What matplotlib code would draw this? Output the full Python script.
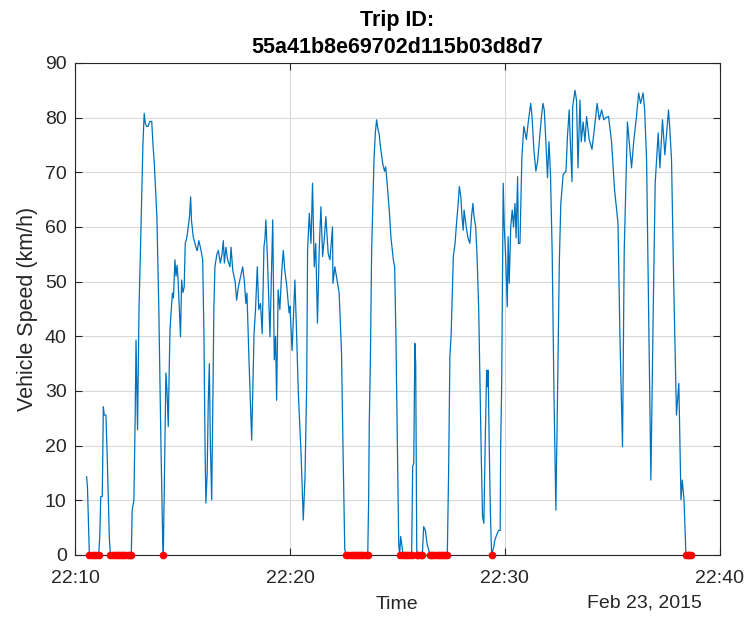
import matplotlib
matplotlib.use('Agg')
import matplotlib.pyplot as plt
import matplotlib.dates as mdates
import pandas as pd

# speed trace, minutes after 22:10 on Feb 23, 2015
minutes = [0.54, 0.58, 0.67, 0.80, 0.90, 1.00, 1.10, 1.15, 1.20, 1.27, 1.32, 1.36, 1.44, 1.50, 1.60,
           1.65, 1.75, 1.85, 1.95, 2.05, 2.15, 2.25, 2.35, 2.45, 2.55, 2.62,
           2.66, 2.74, 2.80, 2.84, 2.88, 2.91, 2.95, 2.98, 3.04, 3.10, 3.16, 3.22, 3.27, 3.33, 3.40,
           3.48, 3.57, 3.63, 3.69, 3.81, 3.90, 4.00, 4.08, 4.11,
           4.18, 4.23, 4.28, 4.34, 4.38, 4.42, 4.53, 4.58, 4.65, 4.70, 4.75, 4.80, 4.91, 4.96, 5.02,
           5.08, 5.13, 5.20, 5.27, 5.33, 5.38, 5.42, 5.50, 5.58, 5.65, 5.69, 5.76, 5.85, 5.94, 6.00,
           6.05, 6.09, 6.15, 6.20, 6.25, 6.30, 6.36, 6.42, 6.46, 6.51, 6.60, 6.67, 6.76, 6.84, 6.90,
           6.95, 7.02, 7.10, 7.21, 7.26, 7.34, 7.45, 7.52, 7.60, 7.67, 7.80, 7.88, 7.95, 8.00, 8.10,
           8.22, 8.33, 8.40, 8.48, 8.55, 8.63, 8.71, 8.79, 8.84, 8.88, 8.95, 9.07, 9.20, 9.27, 9.33,
           9.38, 9.45, 9.53, 9.62, 9.69, 9.76, 9.84, 9.96, 10.00, 10.10, 10.23, 10.31, 10.39, 10.51,
           10.62, 10.70, 10.78, 10.82, 10.90, 10.98, 11.05, 11.13, 11.20, 11.28, 11.36, 11.44, 11.52,
           11.60, 11.67, 11.78, 11.86, 11.98, 12.00, 12.09, 12.19, 12.29, 12.40, 12.47, 12.55,
           12.62, 12.72, 12.82, 12.92, 13.02, 13.12, 13.22, 13.32, 13.42, 13.52, 13.62,
           13.66, 13.69, 13.74, 13.80, 13.86, 13.91, 13.97, 14.03, 14.09, 14.15, 14.20, 14.26, 14.33,
           14.40, 14.45, 14.50, 14.62, 14.70, 14.81, 14.87, 14.93, 15.00, 15.06,
           15.10, 15.15, 15.20, 15.26, 15.36, 15.46, 15.56, 15.66,
           15.71, 15.76, 15.81, 15.85, 15.90, 15.98, 16.08, 16.16,
           16.22, 16.30, 16.38, 16.45, 16.52, 16.62, 16.72, 16.82, 16.92, 17.02, 17.12, 17.22, 17.32,
           17.38, 17.44, 17.50, 17.60, 17.68, 17.75, 17.82, 17.88, 17.95, 18.00, 18.06, 18.10, 18.20,
           18.28, 18.37, 18.45, 18.51, 18.56, 18.64, 18.70, 18.78, 18.84, 18.90, 18.96, 19.02, 19.08,
           19.15, 19.18, 19.22, 19.27, 19.32, 19.38, 19.48, 19.53, 19.60, 19.70, 19.78,
           19.80, 19.85, 19.92, 19.97, 20.03, 20.11, 20.15, 20.20, 20.27, 20.34, 20.40, 20.47, 20.52,
           20.59, 20.63, 20.70, 20.79, 20.88, 20.95, 21.00, 21.08, 21.20, 21.26, 21.35, 21.44, 21.52,
           21.60, 21.70, 21.77, 21.83, 21.90, 21.98, 22.05, 22.12, 22.20, 22.28, 22.37, 22.45, 22.53,
           22.60, 22.71, 22.84, 22.91, 22.99, 23.05, 23.12, 23.15, 23.26, 23.33, 23.40, 23.49, 23.55,
           23.64, 23.72, 23.80, 23.92, 24.05, 24.14, 24.29, 24.39, 24.50, 24.60, 24.70, 24.82, 24.96,
           25.10, 25.26, 25.35, 25.47, 25.55, 25.70, 25.89, 26.00, 26.12, 26.22, 26.31, 26.43, 26.50,
           26.59, 26.70, 26.79, 26.90, 26.99, 27.13, 27.21, 27.33, 27.44, 27.61, 27.67, 27.75, 27.85,
           27.95, 27.98, 28.09, 28.19, 28.25, 28.33, 28.42, 28.50, 28.58, 28.66]

speed = [14.3, 12.5, 0, 0, 0, 0, 0, 3, 10.7, 10.7, 27.1, 25.6, 25.6, 18, 3,
         0, 0, 0, 0, 0, 0, 0, 0, 0, 0, 0,
         8.2, 10, 25, 39.3, 30, 22.9, 35, 45.4, 54.6, 65, 75, 80.8, 79, 78.4, 78.4,
         79.3, 79.3, 75, 71.6, 61.9, 45, 20, 3, 0,
         20, 33.3, 30, 23.5, 33, 41.2, 47.9, 47, 54, 51, 53, 50, 39.9, 50.3, 48,
         49, 57, 58, 60, 62, 65.5, 61.2, 58.2, 57, 56, 55.7, 57.5, 56, 54, 40,
         20, 9.5, 15, 28, 35, 20, 10.1, 30, 45, 52.7, 55, 55.7, 53.4, 55, 57.5,
         53.4, 56.3, 54, 52.7, 56.3, 52.1, 50, 46.6, 49, 50.3, 52.7, 50, 46, 47.9, 35,
         21, 40.5, 45, 52.7, 44.9, 46, 40.5, 56.3, 58, 61.3, 54.6, 39.9, 61.3, 35.7, 40,
         28.3, 48.5, 44.9, 52, 55.7, 52, 49.7, 44.3, 45.5, 37.4, 50.3, 40.5, 29.6, 19.2,
         6.4, 14.3, 31.4, 55.7, 62.5, 57, 68, 52.7, 57, 42.4, 55.7, 63.7, 54.6,
         58, 61.9, 55.1, 54, 60, 49.7, 52.7, 50.3, 47.9, 36.9, 19, 1,
         0, 0, 0, 0, 0, 0, 0, 0, 0, 0, 0,
         10, 24.1, 35, 55.7, 65, 72.3, 77, 79.6, 78, 77, 75, 73.2, 71.3,
         70.2, 71, 69, 63.1, 58, 54, 52.7, 40, 20, 2,
         0, 3.4, 2, 0, 0, 0, 0, 0,
         16.2, 16.8, 38.7, 35, 0, 0, 0, 0,
         5.2, 4.5, 2, 1, 0, 0, 0, 0, 0, 0, 0, 0, 0,
         15, 36.3, 40.5, 54.6, 57, 60.7, 64, 67.4, 65.5, 62, 59.4, 63.1, 60,
         58, 57, 62, 64.3, 62, 60, 55, 45, 31.4, 18, 7, 5.8, 20,
         33.8, 30.8, 33.8, 20, 8.5, 0, 1.5, 2.7, 3.5, 4.5, 4.5,
         19.2, 31.4, 68, 60, 55, 45.4, 58.2, 49.7, 60, 63.1, 60, 64.3, 58,
         69.2, 57, 57, 72.9, 78.4, 77, 76, 79, 82.6, 80.2, 74, 70.2, 72,
         75.6, 80.2, 82.6, 81.4, 76, 69, 75.6, 69.6, 55, 30, 8.2, 30, 53.4,
         64.3, 69.6, 70.2, 76.6, 81.4, 75, 68.3, 82, 85, 83.2, 70.8, 83.2, 75.6,
         79.2, 75.6, 80.2, 76, 74.2, 77.2, 82.6, 79.6, 81.4, 79.6, 80, 80.2, 75.6,
         66.8, 60.7, 40, 19.8, 55.7, 79.2, 70.8, 76, 80.2, 84.5, 82.6, 84.5, 81.4,
         72.3, 40, 13.7, 45, 68, 77.2, 70.8, 79.6, 73.2, 81.4, 78, 72.3, 50,
         31.4, 25.6, 31.4, 10.1, 13.7, 10.1, 0, 0, 0, 0]

trip_id = '55a41b8e69702d115b03d8d7'
start = pd.Timestamp('2015-02-23 22:10:00')

times = start + pd.to_timedelta(minutes, unit='min')
df = pd.DataFrame({'time': times, 'speed': speed})
stops = df[df.speed == 0]

plt.rcParams['font.family'] = ['Liberation Sans', 'DejaVu Sans']
dark = '#262626'

fig = plt.figure(figsize=(7.46, 6.17), dpi=100)
ax = fig.add_axes([0.1005, 0.1005, 0.8645, 0.7975])

ax.plot(df.time, df.speed, color='#0072BD', lw=0.9)
ax.plot(stops.time, stops.speed, 'o', color='red', ms=5.5, mec='none', clip_on=False, zorder=5)

ax.set_xlim(start, start + pd.Timedelta(minutes=30))
ax.set_ylim(0, 90)
ax.set_yticks(range(0, 91, 10))
ax.xaxis.set_major_locator(mdates.MinuteLocator(byminute=range(0, 60, 10)))
ax.xaxis.set_major_formatter(mdates.DateFormatter('%H:%M'))

ax.grid(True, color='#d9d9d9', lw=0.8)
ax.set_axisbelow(True)
ax.tick_params(direction='in', length=5, width=0.8, colors=dark, labelsize=14,
               top=True, right=True)
ax.tick_params(axis='y', pad=6)
ax.tick_params(axis='x', pad=11)
for s in ax.spines.values():
    s.set_color(dark)
    s.set_linewidth(0.8)

ax.set_xlabel('Time', fontsize=14, color=dark, labelpad=6)
ax.set_ylabel('Vehicle Speed (km/h)', fontsize=15.5, color=dark, labelpad=5)
ax.set_title('Trip ID:\n' + trip_id, fontsize=15.5, fontweight='bold', pad=7, linespacing=1.4)
ax.text(0.972, -0.081, 'Feb 23, 2015', transform=ax.transAxes, ha='right', va='top',
        fontsize=14, color=dark)

fig.savefig('out.png', dpi=100)
